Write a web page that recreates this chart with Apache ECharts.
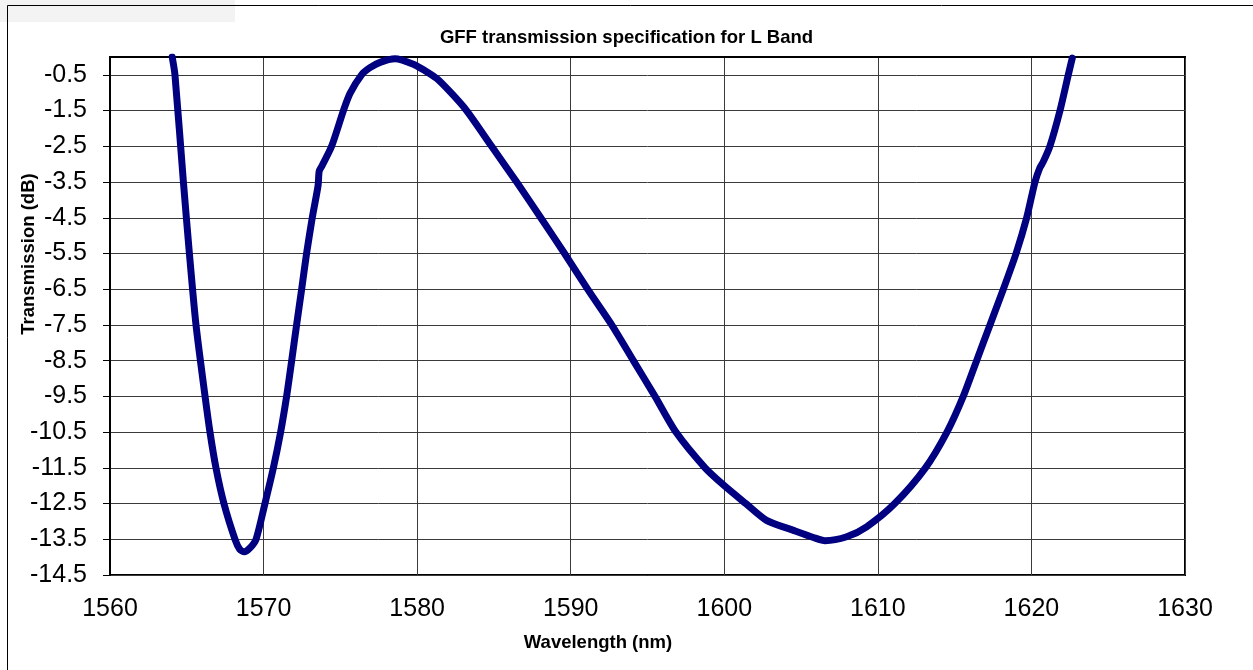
<!DOCTYPE html>
<html>
<head>
<meta charset="utf-8">
<title>GFF transmission specification for L Band</title>
<script src="https://cdn.jsdelivr.net/npm/echarts@6/dist/echarts.min.js"></script>
<style>
  html, body { margin: 0; padding: 0; background: #fff; }
  #chart { width: 1253px; height: 670px; }
</style>
</head>
<body>
<div id="chart"></div>
<script>
// wavelength (nm)
var wavelength = [
  1564.05, 1564.23, 1564.78, 1565.17, 1565.6, 1566.19, 1566.51, 1566.9, 1567.42, 1568.14,
  1568.45, 1568.75, 1569.1, 1569.51, 1570.09, 1570.64, 1571.11, 1571.5, 1571.83, 1572.15,
  1572.48, 1572.8, 1573.17, 1573.55, 1573.62, 1573.8, 1574.43, 1575.2, 1575.63, 1576.38,
  1576.93, 1577.58, 1578.56, 1579.75, 1580.5, 1581.27, 1582.2, 1583.22, 1584.85, 1586.48,
  1588.05, 1589.6, 1591.1, 1592.67, 1594.08, 1595.49, 1596.85, 1598.75, 1600.0, 1601.4,
  1602.75, 1604.5, 1605.8, 1606.56, 1607.97, 1609.27, 1611.1, 1613.1, 1614.5, 1615.56,
  1616.43, 1617.3, 1618.17, 1619.0, 1619.69, 1620.23, 1620.55, 1620.75, 1621.2, 1621.86,
  1622.4, 1622.66
];
// transmission (dB)
var transmission = [
  0.0, -0.5, -3.5, -5.5, -7.5, -9.5, -10.5, -11.5, -12.5, -13.5,
  -13.78, -13.85, -13.75, -13.5, -12.5, -11.5, -10.5, -9.5, -8.5, -7.5,
  -6.5, -5.5, -4.5, -3.6, -3.2, -3.05, -2.5, -1.5, -1.02, -0.5,
  -0.3, -0.15, -0.05, -0.2, -0.38, -0.6, -1.0, -1.5, -2.5, -3.5,
  -4.5, -5.5, -6.5, -7.5, -8.5, -9.5, -10.5, -11.5, -12.0, -12.5,
  -12.97, -13.25, -13.45, -13.54, -13.43, -13.15, -12.5, -11.5, -10.5, -9.5,
  -8.5, -7.5, -6.5, -5.5, -4.5, -3.5, -3.1, -2.95, -2.5, -1.5,
  -0.5, -0.03
];

var chart = echarts.init(document.getElementById('chart'));

var pts = [];
for (var i = 0; i < wavelength.length; i++) {
  pts.push([wavelength[i], transmission[i]]);
}

var font = 'Liberation Sans, Arial, sans-serif';

var option = {
  backgroundColor: '#fff',
  animation: false,
  title: {
    text: 'GFF transmission specification for L Band',
    left: 'center',
    top: 23,
    textStyle: { fontFamily: font, fontWeight: 'bold', fontSize: 18.5, color: '#000' }
  },
  graphic: [
    { type: 'rect', shape: { x: 0, y: 0, width: 235, height: 22 }, style: { fill: '#f3f3f3' }, z: -1 },
    { type: 'polyline', shape: { points: [[7.5, 670], [7.5, 5.5], [1253, 5.5]] }, style: { stroke: '#000', lineWidth: 1, fill: null } }
  ],
  grid: {
    left: 110, right: 68, top: 57, bottom: 95,
    outerBoundsMode: 'none',
    show: true, borderColor: '#000', borderWidth: 2, backgroundColor: 'transparent'
  },
  xAxis: {
    type: 'value',
    min: 1560, max: 1630, interval: 10,
    name: 'Wavelength (nm)',
    nameLocation: 'middle',
    nameGap: 58,
    nameMoveOverlap: false,
    nameTextStyle: { fontFamily: font, fontWeight: 'bold', fontSize: 18.5, color: '#000', padding: [0, 99, 0, 0] },
    axisLine: { show: true, lineStyle: { color: '#000', width: 2 } },
    axisTick: { show: false },
    axisLabel: {
      fontFamily: font, fontSize: 25, color: '#000', margin: 22,
      formatter: function (v) { return String(v); }
    },
    splitLine: { show: true, lineStyle: { color: '#3a3a3a', width: 1 } }
  },
  yAxis: {
    type: 'value',
    min: -14.5, max: 0, interval: 1,
    name: 'Transmission (dB)',
    nameLocation: 'middle',
    nameGap: 72,
    nameMoveOverlap: false,
    nameTextStyle: { fontFamily: font, fontWeight: 'bold', fontSize: 18.5, color: '#000', padding: [0, 0, 0, 124] },
    axisLine: { show: true, lineStyle: { color: '#000', width: 2 } },
    axisTick: { show: true, inside: false, length: 7, lineStyle: { color: '#000', width: 1 } },
    axisLabel: { fontFamily: font, fontSize: 25, color: '#000', margin: 23, showMaxLabel: false },
    splitLine: { show: true, lineStyle: { color: '#3a3a3a', width: 1 } }
  },
  series: [
    {
      type: 'line',
      data: pts,
      showSymbol: false,
      smooth: 0.25,
      lineStyle: { color: '#000080', width: 7, cap: 'round', join: 'round' },
      z: 3
    }
  ]
};

chart.setOption(option);
</script>
</body>
</html>
